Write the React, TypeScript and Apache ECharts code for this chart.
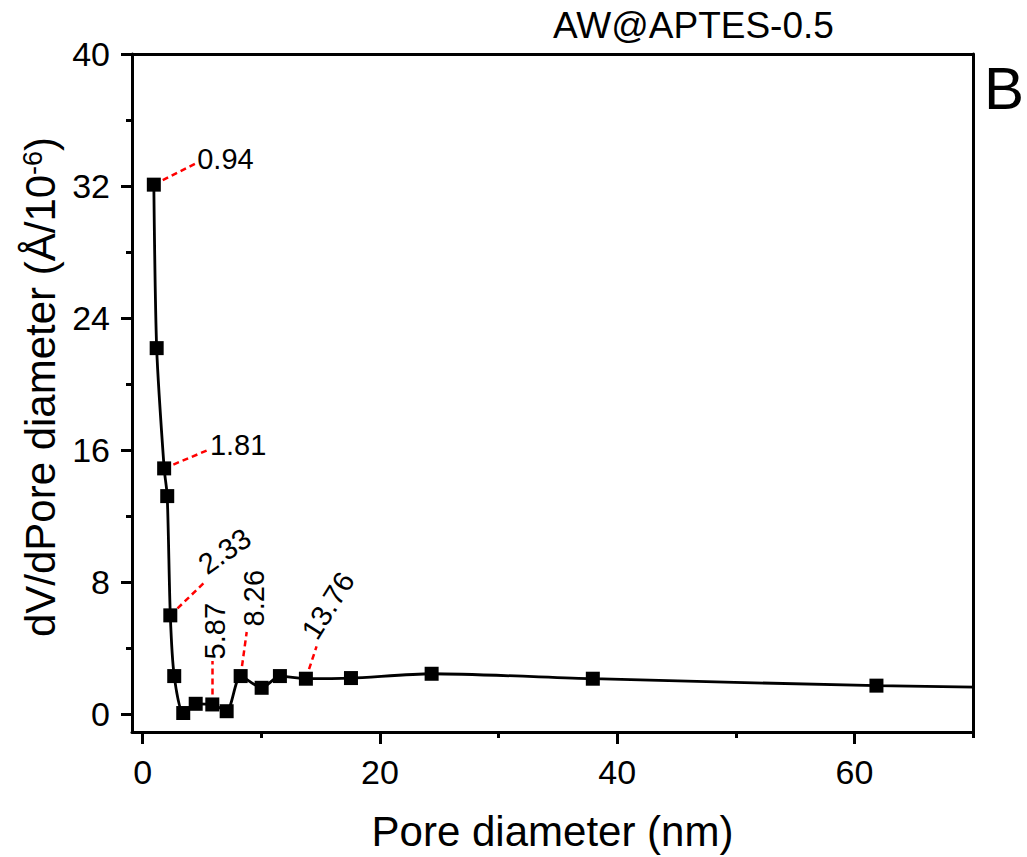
import React, { useEffect, useRef } from 'react';
import * as echarts from 'echarts';

const FONT = '"Liberation Sans", Arial, Helvetica, sans-serif';

// Pore size distribution (BJH) — x: pore diameter (nm), y: dV/dD (Å/10^-6)
const poreDiameter = [0.94, 1.18, 1.81, 2.07, 2.33, 2.66, 3.42, 4.47, 5.87, 7.08, 8.26, 10.03, 11.57, 13.76, 17.56, 24.36, 37.95, 61.86, 98];
const dVdD = [32.08, 22.17, 14.88, 13.2, 5.97, 2.29, 0.05, 0.61, 0.57, 0.16, 2.29, 1.58, 2.29, 2.13, 2.17, 2.43, 2.13, 1.71, 1.32];

const xMajorTicks = [0, 20, 40, 60];
const xMinorTicks = [10, 30, 50, 70];
const yMajorTicks = [0, 8, 16, 24, 32, 40];
const yMinorTicks = [4, 12, 20, 28, 36];

// Peak annotations
const annotationLabels = ['0.94', '1.81', '2.33', '5.87', '8.26', '13.76'];
const annotationPoints = [[0.94, 32.08], [1.81, 14.88], [2.33, 5.97], [5.87, 0.57], [8.26, 2.29], [13.76, 2.13]];
const leaderEnds = [[4.69, 33.44], [5.67, 16.04], [5.25, 8.0], [5.9, 3.2], [8.77, 4.96], [14.66, 4.09]];
const labelAnchors = [[4.6, 33.65], [5.67, 16.3], [4.95, 8.88], [6.07, 3.3], [9.35, 5.3], [14.0, 4.7]];
const labelAngles = [0, 0, 35, 90, 90, 58];

export default function App() {
  const ref = useRef<HTMLDivElement>(null);
  useEffect(() => {
    if (!ref.current) return;
    const chart = echarts.init(ref.current, undefined, { renderer: 'svg' });
    const black = '#000000';
    const xRange = { min: -0.9, max: 70 };
    const yRange = { min: -1.1, max: 40 };
    const axisLineStyle = { color: black, width: 3 };

    const option: any = {
      animation: false,
      backgroundColor: '#fff',
      grid: { left: 132, right: 54, top: 54, bottom: 125 },
      xAxis: [
        {
          type: 'value', position: 'bottom', ...xRange,
          axisLine: { show: true, onZero: false, lineStyle: axisLineStyle },
          axisTick: { show: true, customValues: xMajorTicks, length: 12, lineStyle: axisLineStyle },
          axisLabel: { show: true, customValues: xMajorTicks, fontSize: 34, color: black, fontFamily: FONT, margin: 23 },
          splitLine: { show: false },
          name: 'Pore diameter (nm)', nameLocation: 'middle', nameGap: 78,
          nameTextStyle: { fontSize: 42, color: black, fontFamily: FONT },
        },
        {
          type: 'value', position: 'bottom', ...xRange,
          axisLine: { show: false, onZero: false },
          axisTick: { show: true, customValues: xMinorTicks, length: 6, lineStyle: axisLineStyle },
          axisLabel: { show: false },
          splitLine: { show: false },
        },
        {
          type: 'value', position: 'top', ...xRange,
          axisLine: { show: true, onZero: false, lineStyle: axisLineStyle },
          axisTick: { show: false }, axisLabel: { show: false }, splitLine: { show: false },
        },
      ],
      yAxis: [
        {
          type: 'value', position: 'left', ...yRange,
          axisLine: { show: true, onZero: false, lineStyle: axisLineStyle },
          axisTick: { show: true, customValues: yMajorTicks, length: 11, lineStyle: axisLineStyle },
          axisLabel: { show: true, customValues: yMajorTicks, fontSize: 34, color: black, fontFamily: FONT, margin: 22 },
          splitLine: { show: false },
          name: '{a|dV/dPore diameter (Å/10}{s|-6}{a|)}', nameLocation: 'middle', nameGap: 58, nameRotate: 90,
          nameTextStyle: {
            fontSize: 42, color: black, fontFamily: FONT, padding: [0, 0, 0, 12],
            rich: {
              a: { fontSize: 42, color: black, fontFamily: FONT },
              s: { fontSize: 27, color: black, fontFamily: FONT, verticalAlign: 'top' },
            },
          },
        },
        {
          type: 'value', position: 'left', ...yRange,
          axisLine: { show: false, onZero: false },
          axisTick: { show: true, customValues: yMinorTicks, length: 6, lineStyle: axisLineStyle },
          axisLabel: { show: false }, splitLine: { show: false },
        },
        {
          type: 'value', position: 'right', ...yRange,
          axisLine: { show: true, onZero: false, lineStyle: axisLineStyle },
          axisTick: { show: false }, axisLabel: { show: false }, splitLine: { show: false },
        },
      ],
      series: [
        {
          type: 'lines',
          coordinateSystem: 'cartesian2d',
          xAxisIndex: 0, yAxisIndex: 0,
          z: 2,
          silent: true,
          lineStyle: { color: '#ff0000', width: 2.5, type: [6, 4], opacity: 1, curveness: 0 },
          data: annotationPoints.map((p, i) => ({ coords: [p, leaderEnds[i]] })),
        },
        {
          type: 'line',
          xAxisIndex: 0, yAxisIndex: 0,
          z: 3,
          smooth: 0.25,
          clip: true,
          symbol: 'rect',
          symbolSize: 14,
          showAllSymbol: true,
          lineStyle: { color: black, width: 2.8 },
          itemStyle: { color: black },
          data: poreDiameter.map((x, i) => [x, dVdD[i]]),
        },
        {
          type: 'scatter',
          xAxisIndex: 0, yAxisIndex: 0,
          z: 4,
          silent: true,
          symbolSize: 0,
          itemStyle: { color: black, opacity: 1 },
          label: {
            show: true, position: 'right', distance: 0, formatter: '{b}',
            fontSize: 29, color: black, opacity: 1, fontFamily: FONT, align: 'left', verticalAlign: 'middle',
            textBorderWidth: 0,
          },
          data: labelAnchors.map((p, i) => ({
            name: annotationLabels[i],
            value: p,
            label: { rotate: labelAngles[i], color: black },
          })),
        },
      ],
      graphic: [
        {
          type: 'text', x: 553, y: 25,
          style: { text: 'AW@APTES-0.5', fontSize: 37, fontFamily: FONT, fill: black, align: 'left', verticalAlign: 'middle' },
        },
        {
          type: 'text', x: 984, y: 88,
          style: { text: 'B', fontSize: 60, fontFamily: FONT, fill: black, align: 'left', verticalAlign: 'middle' },
        },
      ],
    };
    chart.setOption(option);
    return () => chart.dispose();
  }, []);
  return (
    <div
      ref={ref}
      style={{ position: 'fixed', left: 0, top: 0, width: 1027, height: 857, background: '#fff' }}
    />
  );
}
